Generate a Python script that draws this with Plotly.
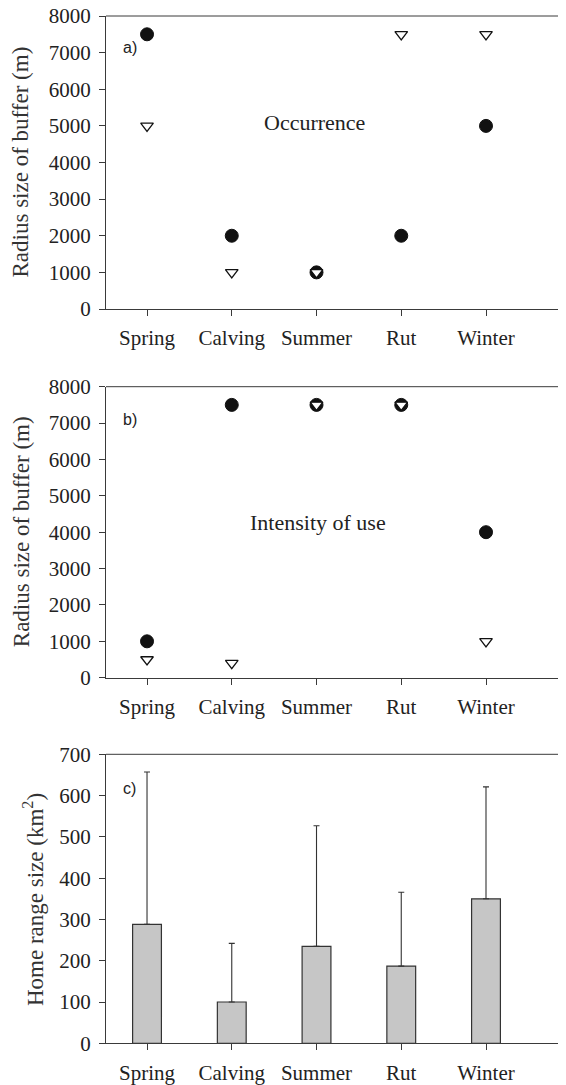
import plotly.graph_objects as go

seasons = ["Spring", "Calving", "Summer", "Rut", "Winter"]
# a) Occurrence
occ_circle = [7500, 2000, 1000, 2000, 5000]
occ_triangle = [5000, 1000, 1000, 7500, 7500]
# b) Intensity of use
int_circle = [1000, 7500, 7500, 7500, 4000]
int_triangle = [500, 400, 7500, 7500, 1000]
# c) Home range size
home_range = [288, 100, 235, 187, 350]
home_range_err = [369, 142, 292, 179, 271]

# page body has an 8px default margin: size the figure to fit the window
OFF = 8
W, H = 566 - OFF, 1085 - OFF
xs = list(range(len(seasons)))
FONT = "Liberation Serif, Times New Roman, serif"
AX = "#3a3a3a"
TXT = "#222222"

def py(px):
    return 1 - (px - OFF) / H

def pxx(px):
    return (px - OFF) / W

fig = go.Figure()

def add_points(circ, tri, xa, ya):
    fig.add_trace(go.Scatter(x=xs, y=circ, mode="markers", xaxis=xa, yaxis=ya,
                             marker=dict(symbol="circle", size=13, color="#111111",
                                         line=dict(color="#111111", width=1)),
                             showlegend=False))
    fig.add_trace(go.Scatter(x=xs, y=tri, mode="markers", xaxis=xa, yaxis=ya,
                             marker=dict(symbol="triangle-down", size=11, color="white",
                                         line=dict(color="#111111", width=1.3)),
                             showlegend=False))

add_points(occ_circle, occ_triangle, "x", "y")
add_points(int_circle, int_triangle, "x2", "y2")

fig.add_trace(go.Bar(x=xs, y=home_range, xaxis="x3", yaxis="y3", width=0.34,
                     marker=dict(color="#c6c6c6", line=dict(color="#333333", width=1.2)),
                     error_y=dict(type="data", symmetric=False, array=home_range_err,
                                  arrayminus=[0] * len(home_range_err),
                                  color="#333333", thickness=1.1, width=3),
                     showlegend=False))

left = pxx(106)
xr = [-0.484, 4.944]
panels = [  # (top px, bottom px) in window pixels
    (16, 309),
    (386.7, 677.7),
    (754.3, 1043.3),
]

def xaxis_cfg(anchor):
    return dict(domain=[left, 1], range=xr, anchor=anchor, automargin=False,
                tickvals=xs, ticktext=seasons, showgrid=False, zeroline=False,
                showline=True, linecolor=AX, linewidth=1,
                ticks="outside", ticklen=6, tickcolor=AX, tickwidth=1,
                ticklabelstandoff=4, ticklabeloverflow="allow",
                tickfont=dict(family=FONT, size=21, color=TXT))

def yaxis_cfg(anchor, dom, rng, dtick):
    return dict(domain=dom, range=rng, anchor=anchor, dtick=dtick, tick0=0,
                automargin=False, showgrid=False, zeroline=False,
                showline=True, linecolor=AX, linewidth=1,
                ticks="outside", ticklen=6, tickcolor=AX, tickwidth=1,
                ticklabelstandoff=4, ticklabeloverflow="allow",
                tickfont=dict(family=FONT, size=21, color=TXT))

fig.update_layout(
    width=W, height=H,
    margin=dict(l=0, r=0, t=0, b=0, autoexpand=False),
    paper_bgcolor="white", plot_bgcolor="white",
    xaxis=xaxis_cfg("y"),
    yaxis=yaxis_cfg("x", [py(panels[0][1]), py(panels[0][0])], [0, 8000], 1000),
    xaxis2=xaxis_cfg("y2"),
    yaxis2=yaxis_cfg("x2", [py(panels[1][1]), py(panels[1][0])], [0, 8000], 1000),
    xaxis3=xaxis_cfg("y3"),
    yaxis3=yaxis_cfg("x3", [py(panels[2][1]), py(panels[2][0])], [0, 700], 100),
)

for xa, ya in [("x", "y"), ("x2", "y2"), ("x3", "y3")]:
    fig.add_shape(type="line", xref=f"{xa} domain", yref=f"{ya} domain",
                  x0=0, x1=1, y0=1, y1=1, line=dict(color=AX, width=1))

ann = []
ann.append(dict(text="Radius size of buffer (m)", x=20, y=(panels[0][0] + panels[0][1]) / 2))
ann.append(dict(text="Radius size of buffer (m)", x=21, y=(panels[1][0] + panels[1][1]) / 2))
ann.append(dict(text="Home range size (km<sup>2</sup>)", x=33, y=900))
annotations = []
for a in ann:
    annotations.append(dict(text=a["text"], x=pxx(a["x"]), y=py(a["y"]), xref="paper", yref="paper",
                            textangle=-90, showarrow=False, xanchor="center", yanchor="middle",
                            font=dict(family=FONT, size=23, color="#333333")))
for lab, ypx in [("a)", 47), ("b)", 360 + 177 / 3), ("c)", 720 + 205 / 3)]:
    annotations.append(dict(text=lab, x=pxx(121), y=py(ypx), xref="paper", yref="paper",
                            showarrow=False, xanchor="left", yanchor="middle",
                            font=dict(family="Liberation Sans, Arial, sans-serif", size=16, color=TXT)))
annotations.append(dict(text="Occurrence", x=pxx(314), y=py(123), xref="paper", yref="paper",
                        showarrow=False, xanchor="center", yanchor="middle",
                        font=dict(family=FONT, size=22, color=TXT)))
annotations.append(dict(text="Intensity of use", x=pxx(318), y=py(522), xref="paper", yref="paper",
                        showarrow=False, xanchor="center", yanchor="middle",
                        font=dict(family=FONT, size=22, color=TXT)))
fig.update_layout(annotations=annotations)

fig.write_html("out.html")
